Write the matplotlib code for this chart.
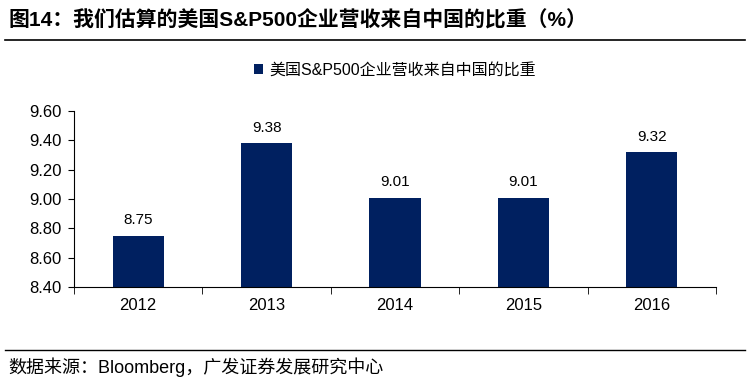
import matplotlib
matplotlib.use("Agg")
import matplotlib.pyplot as plt
from matplotlib.lines import Line2D

plt.rcParams['font.family'] = ['Liberation Sans', 'Noto Sans CJK SC', 'DejaVu Sans']

years = ['2012', '2013', '2014', '2015', '2016']
values = [8.75, 9.38, 9.01, 9.01, 9.32]
yticks = [8.40, 8.60, 8.80, 9.00, 9.20, 9.40, 9.60]
title = '图14：我们估算的美国S&P500企业营收来自中国的比重（%）'
series_name = '美国S&P500企业营收来自中国的比重'
source = '数据来源：Bloomberg，广发证券发展研究中心'

W, H = 750, 384
fig = plt.figure(figsize=(W/100, H/100), dpi=100)
ax = fig.add_axes([74/W, 1-287/H, (716-74)/W, (287-111)/H])

x = range(len(years))
bars = ax.bar(x, values, width=0.4, color='#002060', label=series_name, zorder=2)
ax.set_ylim(8.40, 9.60)
ax.set_yticks(yticks)
ax.set_yticklabels([f'{v:.2f}' for v in yticks], fontsize=12)
ax.set_xlim(-0.5, len(years)-0.5)
ax.set_xticks(list(x))
ax.set_xticklabels(years, fontsize=12)
ax.set_xticks([i-0.5 for i in range(len(years)+1)], minor=True)
ax.tick_params(axis='x', which='major', length=0, pad=8)
ax.tick_params(axis='x', which='minor', length=5, direction='out', color='black')
ax.tick_params(axis='y', length=4, direction='out', pad=5)
for s in ['top', 'right']:
    ax.spines[s].set_visible(False)
ax.spines['left'].set_color('black')
ax.spines['bottom'].set_color('black')

for i, v in enumerate(values):
    ax.annotate(f'{v:.2f}', (i, v), xytext=(0, 6), textcoords='offset points',
                ha='center', va='bottom', fontsize=11)

leg = ax.legend(loc='lower center', bbox_to_anchor=(0.5, 1.11), frameon=False,
                fontsize=11.5, handlelength=0.6, handleheight=0.6, handletextpad=0.4)

fig.text(8/W, 1-20/H, title, fontsize=15, fontweight='bold', va='center', ha='left')
fig.add_artist(Line2D([5/W, 745/W], [1-40/H, 1-40/H], color='black', lw=1.2))
fig.add_artist(Line2D([5/W, 745/W], [1-350/H, 1-350/H], color='black', lw=1.0))
fig.text(8/W, 1-367/H, source, fontsize=13, va='center', ha='left')

fig.savefig('out.png', dpi=100)
